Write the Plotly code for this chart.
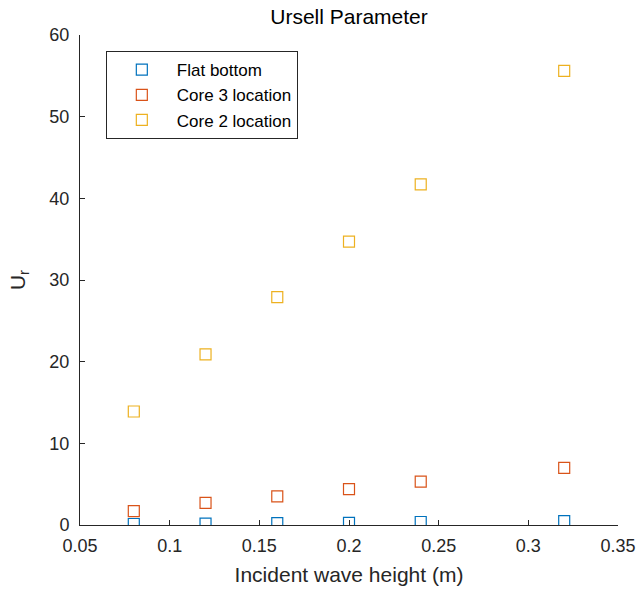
import plotly.graph_objects as go

# Incident wave heights (m)
wave_height = [0.08, 0.12, 0.16, 0.20, 0.24, 0.32]

# Ursell parameter for each location
flat_bottom = [0.12, 0.18, 0.22, 0.27, 0.37, 0.47]
core3 = [1.7, 2.7, 3.5, 4.4, 5.3, 7.0]
core2 = [13.9, 20.9, 27.9, 34.7, 41.7, 55.6]

series_names = ["Flat bottom", "Core 3 location", "Core 2 location"]
series_values = [flat_bottom, core3, core2]
series_colors = ["#0072BD", "#D95319", "#EDB120"]

x_ticks = [0.05, 0.1, 0.15, 0.2, 0.25, 0.3, 0.35]
x_tick_text = ["0.05", "0.1", "0.15", "0.2", "0.25", "0.3", "0.35"]
y_ticks = [0, 10, 20, 30, 40, 50, 60]

fig = go.Figure()
for name, vals, col in zip(series_names, series_values, series_colors):
    fig.add_trace(go.Scatter(
        x=wave_height, y=vals, mode="markers", name=name,
        marker=dict(symbol="square-open", size=11, color=col,
                    line=dict(width=1.2, color=col)),
    ))

font_family = "Liberation Sans, Arial, sans-serif"
axis_color = "#262626"

fig.update_layout(
    width=640, height=590,
    margin=dict(l=80, r=22, t=35, b=65),
    paper_bgcolor="white", plot_bgcolor="white",
    font=dict(family=font_family, size=18, color=axis_color),
    title=dict(text="Ursell Parameter", x=0.5, xanchor="center",
               xref="paper", y=0.971, yanchor="middle",
               font=dict(size=21, color="#000000")),
    showlegend=True,
    legend=dict(x=0.048, y=0.967, xanchor="left", yanchor="top",
                bordercolor=axis_color, borderwidth=1, bgcolor="white",
                font=dict(size=17, color="#000000"), itemwidth=60,
                tracegroupgap=0),
    xaxis=dict(range=[0.05, 0.35], tickvals=x_ticks, ticktext=x_tick_text,
               automargin=False,
               showgrid=False, zeroline=False, showline=True,
               linecolor=axis_color, linewidth=1, ticks="inside",
               ticklen=5, tickcolor=axis_color, mirror=False,
               ticklabelstandoff=4,
               tickfont=dict(size=18, color=axis_color),
               title=dict(text="Incident wave height (m)",
                          font=dict(size=21, color=axis_color), standoff=12)),
    yaxis=dict(range=[0, 60], tickvals=y_ticks,
               automargin=False,
               showgrid=False, zeroline=False, showline=True,
               linecolor=axis_color, linewidth=1, ticks="inside",
               ticklen=5, tickcolor=axis_color, mirror=False,
               ticklabelstandoff=6,
               tickfont=dict(size=18, color=axis_color),
               title=dict(text="U<sub>r</sub>",
                          font=dict(size=21, color=axis_color), standoff=18)),
)

fig.write_html("out.html")
